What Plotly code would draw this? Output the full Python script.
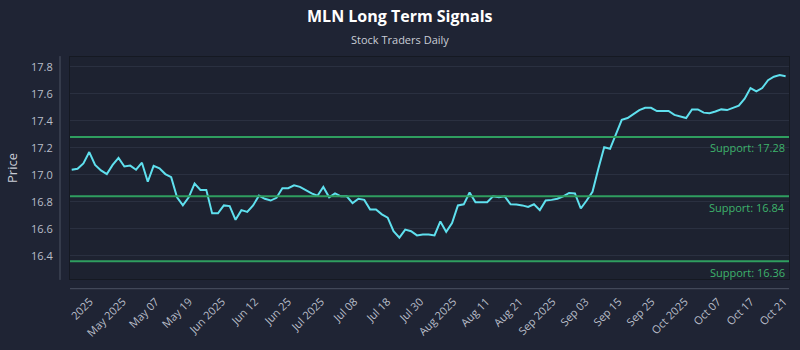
import numpy as np
import plotly.graph_objects as go

# Daily closing prices (trading days, late April through Oct 21, 2025)
prices = [
    17.037, 17.044, 17.084, 17.168, 17.073, 17.032, 17.005, 17.073, 17.125, 17.061,
    17.068, 17.037, 17.089, 16.948, 17.066, 17.048, 17.005, 16.982, 16.833, 16.773,
    16.833, 16.934, 16.888, 16.888, 16.714, 16.714, 16.773, 16.768, 16.666, 16.738,
    16.725, 16.773, 16.845, 16.822, 16.809, 16.829, 16.900, 16.900, 16.922, 16.910,
    16.886, 16.862, 16.845, 16.910, 16.833, 16.862, 16.840, 16.840, 16.790, 16.822,
    16.814, 16.743, 16.743, 16.707, 16.682, 16.582, 16.534, 16.594, 16.582, 16.551,
    16.558, 16.558, 16.551, 16.654, 16.577, 16.642, 16.773, 16.781, 16.869, 16.797,
    16.797, 16.797, 16.840, 16.833, 16.840, 16.781, 16.779, 16.773, 16.761, 16.781,
    16.738, 16.809, 16.814, 16.822, 16.840, 16.865, 16.862, 16.750, 16.809, 16.874,
    17.045, 17.204, 17.192, 17.300, 17.407, 17.420, 17.448, 17.479, 17.496, 17.496,
    17.472, 17.472, 17.472, 17.443, 17.432, 17.420, 17.484, 17.484, 17.460, 17.455,
    17.468, 17.484, 17.479, 17.496, 17.511, 17.563, 17.642, 17.618, 17.642, 17.700,
    17.726, 17.738, 17.730,
]

# Support levels
support_levels = [17.28, 16.84, 16.36]

# Date labels shown along the x axis
tick_labels = [
    "2025", "May 2025", "May 07", "May 19", "Jun 2025", "Jun 12", "Jun 25",
    "Jul 2025", "Jul 08", "Jul 18", "Jul 30", "Aug 2025", "Aug 11", "Aug 21",
    "Sep 2025", "Sep 03", "Sep 15", "Sep 25", "Oct 2025", "Oct 07", "Oct 17", "Oct 21",
]

y_ticks = [16.4, 16.6, 16.8, 17.0, 17.2, 17.4, 17.6, 17.8]

FONT = "Open Sans"
BG = "#1f2434"
PLOT_BG = "#1d2230"
LINE = "#5fe0ee"
GREEN = "#2f9e5f"
GREEN_TEXT = "#3db36c"

W, H = 800, 350
ML, MR, MT, MB = 70, 10, 57, 64
page_center = (W / 2 - ML) / (W - ML - MR)

x = np.arange(len(prices))
tick_pos = np.linspace(3.1, 121.7, len(tick_labels))

fig = go.Figure()
fig.add_trace(go.Scatter(
    x=x, y=prices, mode="lines",
    line=dict(color=LINE, width=2),
    hoverinfo="y", showlegend=False,
))

for lvl in support_levels:
    fig.add_shape(type="line", xref="paper", x0=0, x1=1, yref="y", y0=lvl, y1=lvl,
                  line=dict(color=GREEN, width=2), layer="above")
    fig.add_annotation(xref="paper", x=1, xanchor="right", xshift=-2,
                       yref="y", y=lvl, yanchor="middle", yshift=-11,
                       text=f"Support: {lvl:.2f}", showarrow=False,
                       font=dict(family=FONT, size=11, color=GREEN_TEXT))

# offset axis rules
fig.add_shape(type="line", xref="paper", yref="paper", x0=-0.0139, x1=-0.0139,
              y0=-0.004, y1=1.004, line=dict(color="#4c5263", width=1), layer="above")
fig.add_shape(type="line", xref="paper", yref="paper", x0=0, x1=1,
              y0=-0.0437, y1=-0.0437, line=dict(color="#4c5263", width=1), layer="above")

# title and subtitle, centred on the page
fig.add_annotation(xref="paper", yref="paper", x=page_center, y=1, yshift=41, xanchor="center",
                   yanchor="middle", text="<b>MLN Long Term Signals</b>", showarrow=False,
                   font=dict(family=FONT, size=16, color="#ffffff"))
fig.add_annotation(xref="paper", yref="paper", x=page_center, y=1, yshift=18, xanchor="center",
                   yanchor="middle", text="Stock Traders Daily", showarrow=False,
                   font=dict(family=FONT, size=11, color="#c9cdd6"))

fig.update_layout(
    width=W, height=H,
    margin=dict(l=ML, r=MR, t=MT, b=MB),
    paper_bgcolor=BG, plot_bgcolor=PLOT_BG,
    font=dict(family=FONT, color="#b9bec9", size=11),
    xaxis=dict(
        range=[-0.29, 122.58], tickvals=tick_pos, ticktext=tick_labels,
        tickangle=-45, showgrid=False, zeroline=False,
        showline=True, mirror=True, linecolor="#151922", linewidth=1,
        ticks="", ticklabelstandoff=11,
        tickfont=dict(family=FONT, size=11, color="#b9bec9"),
    ),
    yaxis=dict(
        range=[16.228, 17.872], tickvals=y_ticks, ticktext=[f"{v:.1f}" for v in y_ticks],
        showgrid=True, gridcolor="#2a3040", gridwidth=1, zeroline=False,
        showline=True, mirror=True, linecolor="#151922", linewidth=1,
        ticks="", ticklabelstandoff=14,
        title=dict(text="Price", standoff=10, font=dict(family=FONT, size=13, color="#c9cdd6")),
        tickfont=dict(family=FONT, size=11, color="#b9bec9"),
    ),
)

fig.write_html("out.html")
